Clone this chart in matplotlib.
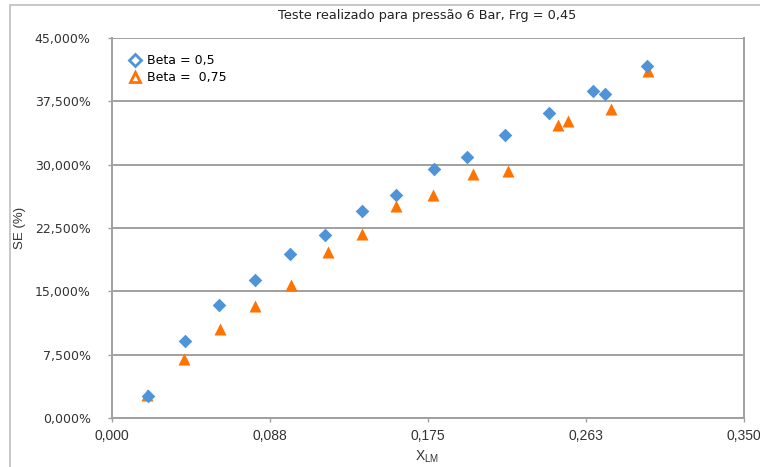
import matplotlib
matplotlib.use("Agg")
import matplotlib.pyplot as plt
from matplotlib.lines import Line2D
from matplotlib.patches import Rectangle
from matplotlib.ticker import FixedLocator, FixedFormatter

# Beta = 0,5 (diamonds)
x_beta05 = [0.0202, 0.0405, 0.0593, 0.0792, 0.0990, 0.1183, 0.1389, 0.1575,
            0.1787, 0.1971, 0.2178, 0.2423, 0.2668, 0.2731, 0.2963]
se_beta05 = [2.56, 9.16, 13.39, 16.39, 19.38, 21.72, 24.53, 26.37,
             29.54, 30.92, 33.57, 36.14, 38.74, 38.31, 41.66]

# Beta = 0,75 (triangles)
x_beta075 = [0.0199, 0.0400, 0.0603, 0.0796, 0.0993, 0.1201, 0.1389, 0.1575,
             0.1783, 0.2004, 0.2198, 0.2474, 0.2526, 0.2764, 0.2970]
se_beta075 = [2.76, 6.99, 10.55, 13.31, 15.79, 19.62, 21.80, 25.07,
              26.37, 28.95, 29.30, 34.67, 35.14, 36.61, 41.07]

x_ticks = [0.0, 0.0875, 0.175, 0.2625, 0.35]
x_tick_labels = ["0,000", "0,088", "0,175", "0,263", "0,350"]
y_ticks = [0.0, 7.5, 15.0, 22.5, 30.0, 37.5, 45.0]
y_tick_labels = ["0,000%", "7,500%", "15,000%", "22,500%", "30,000%",
                 "37,500%", "45,000%"]

blue = "#4F94D8"
orange = "#FF7300"
grid_gray = "#A0A0A0"

fig = plt.figure(figsize=(7.6, 4.67), dpi=100)
# outer chart border (runs off the right/bottom edge like the screenshot)
fig.patches.append(Rectangle((10 / 760, -0.05), 1.0, (467 - 5) / 467 + 0.05,
                             transform=fig.transFigure, fill=False,
                             edgecolor="#BFBFBF", linewidth=1.2))

ax = fig.add_axes([111.5 / 760, 1 - 418 / 467, 632 / 760, 380 / 467])

ax.scatter(x_beta075, se_beta075, marker="^", s=75, color=orange,
           linewidths=0, zorder=3)
ax.scatter(x_beta05, se_beta05, marker="D", s=48, color=blue,
           linewidths=0, zorder=4)

ax.set_xlim(0, 0.35)
ax.set_ylim(0, 45)
ax.xaxis.set_major_locator(FixedLocator(x_ticks))
ax.xaxis.set_major_formatter(FixedFormatter(x_tick_labels))
ax.yaxis.set_major_locator(FixedLocator(y_ticks))
ax.yaxis.set_major_formatter(FixedFormatter(y_tick_labels))

ax.grid(axis="y", color=grid_gray, linewidth=1.4, zorder=0)
ax.set_axisbelow(True)
for side in ["left", "bottom", "right"]:
    ax.spines[side].set_color(grid_gray)
    ax.spines[side].set_linewidth(1.4)
ax.spines["top"].set_visible(False)

ax.tick_params(axis="y", length=3, width=1, color=grid_gray, pad=12,
               labelsize=9, labelcolor="#333333")
ax.tick_params(axis="x", length=3, width=1, color=grid_gray, pad=5,
               labelcolor="#333333")
for lbl in ax.get_xticklabels():
    lbl.set_fontfamily("Liberation Sans")
    lbl.set_fontsize(10)

ax.set_title("Teste realizado para pressão 6 Bar, Frg = 0,45", fontsize=9.3,
             color="#222222", pad=14)
ax.set_ylabel("SE (%)", fontfamily="Liberation Sans", fontsize=9.5,
              color="#333333", labelpad=6)
ax.set_xlabel("X$_{\\mathregular{LM}}$", fontfamily="Liberation Sans",
              fontsize=10, color="#333333", labelpad=4)

handles = [
    Line2D([], [], linestyle="none", marker="D", markersize=6,
           markerfacecolor="white", markeredgecolor=blue, markeredgewidth=2),
    Line2D([], [], linestyle="none", marker="^", markersize=7,
           markerfacecolor="white", markeredgecolor=orange, markeredgewidth=2),
]
ax.legend(handles, ["Beta = 0,5", "Beta =  0,75"], loc="upper left",
          bbox_to_anchor=(0.027, 0.957), frameon=False, fontsize=9,
          handlelength=1.0, handletextpad=0.5, borderpad=0, borderaxespad=0,
          labelspacing=0.3)

fig.savefig("out.png", dpi=100)
